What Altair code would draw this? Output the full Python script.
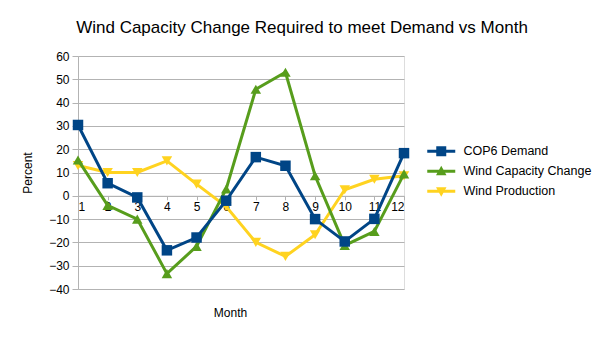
import altair as alt
import pandas as pd

months = list(range(1, 13))
series_names = ["COP6 Demand", "Wind Capacity Change", "Wind Production"]
cop6_demand = [30.4, 5.4, -0.7, -23.4, -17.9, -2.1, 16.6, 12.9, -10.0, -19.6, -9.9, 18.3]
wind_capacity_change = [15.4, -4.1, -10.0, -33.4, -21.7, 2.9, 45.7, 53.0, 8.6, -21.3, -15.3, 9.4]
wind_production = [13.0, 10.0, 10.0, 15.0, 5.0, -4.6, -20.0, -26.0, -16.7, 2.6, 7.1, 8.6]
y_ticks = list(range(-40, 70, 10))

colors = ["#004586", "#579d1c", "#ffd320"]
shapes = ["square", "triangle-up", "triangle-down"]
bar = "M-2.8,-0.3H2.8V0.3H-2.8Z "
legend_shapes = [
    bar + "M-1,-1H1V1H-1Z",
    bar + "M0,-1.1L1.05,0.8L-1.05,0.8Z",
    bar + "M0,1.1L-1.05,-0.8L1.05,-0.8Z",
]

rows = []
for name, vals in zip(series_names, [cop6_demand, wind_capacity_change, wind_production]):
    for m, v in zip(months, vals):
        rows.append({"Month": m, "Percent": v, "Series": name})
df = pd.DataFrame(rows)

FONT = "Liberation Sans"
GRID = "#b3b3b3"

x_enc = alt.X(
    "Month:Q",
    scale=alt.Scale(domain=[1, 12], nice=False, zero=False),
    axis=alt.Axis(
        values=months, offset=-93.2, grid=False, domainColor=GRID, tickColor=GRID,
        tickSize=4, labelPadding=2, labelFontSize=12, labelColor="black",
        title="Month", titleFontSize=12, titleFontWeight="normal", titleColor="black",
        titleY=117, titleX=152, titleBaseline="middle",
    ),
)
y_enc = alt.Y(
    "Percent:Q",
    scale=alt.Scale(domain=[-40, 60], nice=False),
    axis=alt.Axis(
        values=y_ticks, grid=True, gridColor=GRID, domainColor=GRID, tickColor=GRID,
        tickSize=6, labelPadding=3, labelFontSize=12, labelColor="black",
        title="Percent", titleFontSize=12, titleFontWeight="normal", titleColor="black",
        titlePadding=14,
    ),
)
color_scale = alt.Scale(domain=series_names, range=colors)
legend_spec = alt.Legend(
    title=None, orient="none", legendX=357, legendY=89, symbolSize=100,
    symbolStrokeWidth=0, labelFontSize=12.5, labelFont=FONT, labelColor="black",
    labelOffset=16, rowPadding=7, symbolOpacity=1,
)
color_enc = alt.Color("Series:N", scale=color_scale, legend=legend_spec)

base = alt.Chart(df)
layers = []
for name, shp in reversed(list(zip(series_names, shapes))):
    sub = base.transform_filter(alt.datum.Series == name)
    layers.append(
        sub.mark_line(strokeWidth=3).encode(x=x_enc, y=y_enc, color=color_enc)
    )
    layers.append(
        sub.mark_point(shape=shp, filled=True, size=110, opacity=1).encode(
            x=x_enc, y=y_enc, color=color_enc
        )
    )

legend_layer = base.transform_filter("false").mark_point(filled=True, opacity=1, size=100).encode(
    x=x_enc, y=y_enc,
    color=color_enc,
    shape=alt.Shape("Series:N", scale=alt.Scale(domain=series_names, range=legend_shapes),
                    legend=legend_spec),
)

chart = alt.layer(*layers, legend_layer).properties(
    width=326, height=233,
    padding={"left": 78, "top": 56, "right": 200, "bottom": 51},
    autosize=alt.AutoSizeParams(type="none"),
    title=alt.TitleParams(
        "Wind Capacity Change Required to meet Demand vs Month",
        fontSize=17, font=FONT, fontWeight="normal", color="black",
        anchor="middle", dx=61, offset=13,
    ),
).configure_view(stroke=GRID).configure(font=FONT)

chart.save("out.html", embed_options={"renderer": "svg", "actions": False})
